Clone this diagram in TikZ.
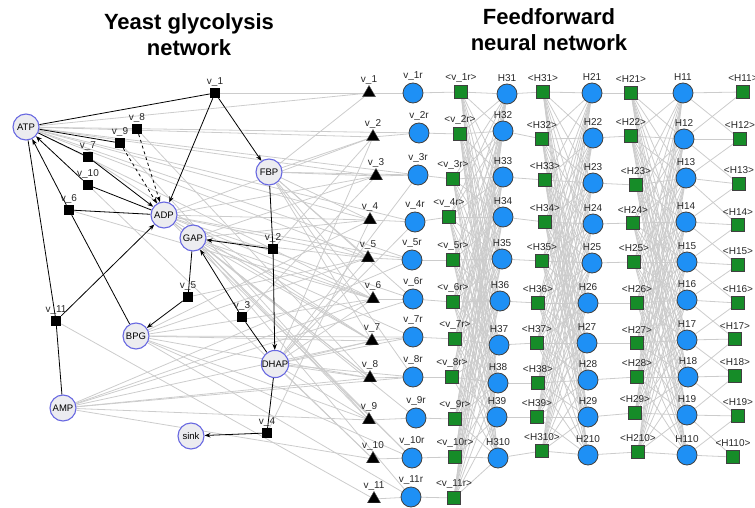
\documentclass[tikz,border=0pt]{standalone}
\usepackage{fontspec}
\setmainfont{Liberation Sans}
\usetikzlibrary{shapes.geometric, arrows.meta, positioning, backgrounds}

\definecolor{metblue}{RGB}{105,105,225}
\definecolor{metfill}{RGB}{236,236,240}
\definecolor{neuronblue}{RGB}{30,144,245}
\definecolor{outgreen}{RGB}{22,140,40}
\definecolor{edgegray}{RGB}{204,204,204}
\definecolor{lbltext}{RGB}{40,40,40}

\begin{document}
\begin{tikzpicture}[x=1pt, y=-1pt,
  lbl/.style={font=\fontsize{10}{11}\selectfont, text=lbltext, inner sep=1pt},
  ttl/.style={font=\fontsize{22}{26}\selectfont\bfseries, align=center},
  met/.style={circle, draw=metblue, line width=1.1pt, fill=metfill,
              minimum size=26pt, inner sep=0pt, font=\fontsize{9.5}{10}\selectfont},
  rxn/.style={rectangle, fill=black, minimum size=10pt, inner sep=0pt,
              label={[lbl, label distance=0pt]above:#1}},
  tri/.style={regular polygon, regular polygon sides=3, fill=black, draw=black!70,
              minimum size=15pt, inner sep=0pt, label={[lbl, label distance=-1pt]above:#1}},
  neuron/.style={circle, fill=neuronblue, draw=black!75, line width=0.8pt,
                 minimum size=20pt, inner sep=0pt, label={[lbl, label distance=1pt]above:#1}},
  outsq/.style={rectangle, fill=outgreen, draw=black!75, line width=0.6pt,
                minimum size=13pt, inner sep=0pt, label={[lbl, label distance=2pt]above:#1}},
  gedge/.style={draw=edgegray, line width=0.8pt},
  rx/.style={draw=black, line width=0.8pt},
  rxarr/.style={rx, -{Stealth[length=6pt, width=4.5pt]}},
  rxdash/.style={rxarr, dashed}
]
\useasboundingbox (0,0) rectangle (755,508);

%% Titles
\node[ttl] (ttlyeast) at (189,35) {Yeast glycolysis\\network};
\node[ttl] (ttlffnn) at (549,30) {Feedforward\\neural network};

%% Glycolysis metabolites
\node[met] (ATP) at (26,127) {ATP};
\node[met] (ADP) at (164,215) {ADP};
\node[met] (FBP) at (269,172) {FBP};
\node[met] (GAP) at (193,238) {GAP};
\node[met] (BPG) at (136,336) {BPG};
\node[met] (DHAP) at (275,364) {DHAP};
\node[met] (AMP) at (63,408) {AMP};
\node[met] (sink) at (191,436) {sink};

%% Glycolysis reactions
\foreach \n/\x/\y in {1/215/93, 2/273/249, 3/242/317, 4/267/433, 5/188/297, 6/69/210,
                      7/88/157, 8/137/129, 9/120/143, 10/88/185, 11/56/321}
  \node[rxn={v\_\n}] (v\n) at (\x,\y) {};

%% Network columns
\foreach \n/\x/\y in {1/369/93, 2/373/137, 3/376/176, 4/370/220, 5/368/258, 6/373/299,
                      7/372/341, 8/370/378, 9/369/420, 10/373/459, 11/374/499}
  \node[tri={v\_\n}] (t\n) at (\x,\y) {};
\foreach \n/\x/\y in {1/413/93, 2/419/133, 3/418/175, 4/415/222, 5/412/260, 6/413/299,
                      7/413/337, 8/413/377, 9/416/418, 10/412/458, 11/411/497}
  \node[neuron={v\_\n r}] (c\n) at (\x,\y) {};
\foreach \n/\x/\y in {1/461/92, 2/460/134, 3/453/179, 4/449/217, 5/453/260, 6/453/302,
                      7/455/339, 8/452/377, 9/455/419, 10/455/457, 11/454/498}
  \node[outsq={<v\_\n r>}] (q\n) at (\x,\y) {};
\foreach \n/\x/\y in {1/507/94, 2/503/131, 3/503/177, 4/503/217, 5/502/259,
                      6/500/301, 7/499/345, 8/498/383, 9/497/417, 10/498/458}
  \node[neuron={H3\n}] (ha\n) at (\x,\y) {};
\foreach \n/\x/\y in {1/543/92, 2/542/139, 3/545/180, 4/545/222, 5/542/261,
                      6/538/303, 7/537/343, 8/538/383, 9/537/417, 10/542/451}
  \node[outsq={<H3\n>}] (qa\n) at (\x,\y) {};
\foreach \n/\x/\y in {1/592/93, 2/593/138, 3/593/183, 4/593/224, 5/592/263,
                      6/588/303, 7/587/343, 8/588/380, 9/588/417, 10/588/455}
  \node[neuron={H2\n}] (hb\n) at (\x,\y) {};
\foreach \n/\x/\y in {1/631/93, 2/631/136, 3/636/185, 4/633/223, 5/634/262,
                      6/637/303, 7/637/343, 8/637/377, 9/635/413, 10/638/452}
  \node[outsq={<H2\n>}] (qb\n) at (\x,\y) {};
\foreach \n/\x/\y in {1/683/93, 2/684/139, 3/686/178, 4/686/222, 5/687/262,
                      6/687/300, 7/687/340, 8/688/377, 9/687/415, 10/687/455}
  \node[neuron={H1\n}] (hc\n) at (\x,\y) {};
\foreach \n/\x/\y in {1/743/92, 2/740/139, 3/739/184, 4/738/225, 5/738/265,
                      6/738/303, 7/735/339, 8/735/376, 9/738/416, 10/733/457}
  \node[outsq={<H1\n>}] (qc\n) at (\x,\y) {};

\begin{scope}[on background layer]
  %% gray mapping edges
  \foreach \n in {1,...,11} {
    \draw[gedge] (v\n) -- (t\n);
    \draw[gedge] (t\n) -- (c\n);
    \draw[gedge] (c\n) -- (q\n);
  }
  \foreach \m/\ts in {ATP/{1,2,3,4,5,6}, ADP/{2,3,4,5,6,7,8}, FBP/{1,2,3,4,5,6,7},
                      GAP/{3,4,5,6,7,8,9}, BPG/{4,5,6,7,8,9}, DHAP/{2,5,6,7,8,9,10},
                      AMP/{6,7,8,9,10}}
    \foreach \t in \ts
      \draw[gedge] (\m) -- (t\t);
  \foreach \m/\cs in {ATP/{2,3,4,5}, ADP/{5,6,9,10}, FBP/{3,6,8}, GAP/{7,10,11},
                      BPG/{7,10,11}, DHAP/{3,4,7,8}, AMP/{5,6,8}}
    \foreach \c in \cs
      \draw[gedge] (\m) -- (c\c);
  %% dense layers
  \foreach \i in {1,...,11}
    \foreach \j in {1,...,10}
      \draw[gedge] (q\i) -- (ha\j);
  \foreach \i in {1,...,10} {
    \draw[gedge] (ha\i) -- (qa\i);
    \draw[gedge] (hb\i) -- (qb\i);
    \foreach \j in {1,...,10} {
      \draw[gedge] (qa\i) -- (hb\j);
      \draw[gedge] (qb\i) -- (hc\j);
      \ifnum\numexpr\i-\j\relax<2 \ifnum\numexpr\j-\i\relax<2
        \draw[gedge] (hc\j) -- (qc\i);
      \fi\fi
    }
  }

  %% glycolysis reactions
  \draw[rx] (ATP) -- (v1);
  \draw[rxarr] (v1) -- (FBP);
  \draw[rxarr] (v1) -- (ADP);
  \draw[rx] (FBP) -- (v2);
  \draw[rxarr] (v2) -- (GAP);
  \draw[rxarr] (v2) -- (DHAP);
  \draw[rx] (DHAP) -- (v3);
  \draw[rxarr] (v3) -- (GAP);
  \draw[rx] (DHAP) -- (v4);
  \draw[rxarr] (v4) -- (sink);
  \draw[rx] (GAP) -- (v5);
  \draw[rxarr] (v5) -- (BPG);
  \draw[rx] (ADP) -- (v6);
  \draw[rx] (BPG) -- (v6);
  \draw[rxarr] (v6) -- (ATP);
  \draw[rx] (ATP) -- (v7);
  \draw[rxarr] (v7) -- (ADP);
  \draw[rxdash] (v8) -- (ADP);
  \draw[rx] (ATP) -- (v9);
  \draw[rxdash] (v9) -- (ADP);
  \draw[rx] (ADP) -- (v10);
  \draw[rxarr] (v10) -- (ATP);
  \draw[rx] (ATP) -- (v11);
  \draw[rx] (AMP) -- (v11);
  \draw[rxarr] (v11) -- (ADP);
\end{scope}
\end{tikzpicture}
\end{document}
